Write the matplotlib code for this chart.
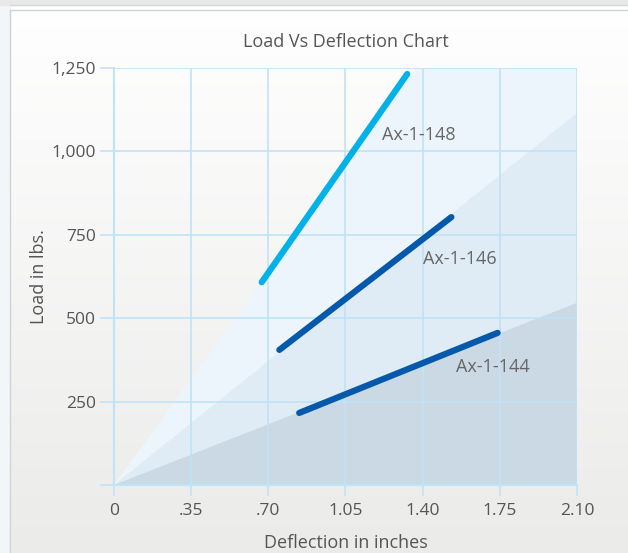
import numpy as np
import matplotlib.pyplot as plt
from matplotlib.patches import Rectangle

plt.rcParams["font.family"] = ["Open Sans", "DejaVu Sans"]

# Data
series_names = ['Ax-1-148', 'Ax-1-146', 'Ax-1-144']
defl_start = [0.67, 0.75, 0.84]
defl_end = [1.33, 1.53, 1.74]
load_start = [608, 405, 216]
load_end = [1232, 803, 456]
label_x = [1.38, 1.57, 1.72]
label_y = [1049, 677, 354]
line_colors = ['#00b2e8', '#0559ab', '#0559ab']

# shaded wedges from origin: (x, y) of outer edge
wedge_light = [(0, 0), (1.371, 1250), (2.1, 1250), (2.1, 0)]
wedge_mid = [(0, 0), (2.1, 1115), (2.1, 0)]
wedge_dark = [(0, 0), (2.1, 546), (2.1, 0)]
wedge_colors = ['#edf5fc', '#dfebf5', '#cad9e4']

x_ticks = [0, 0.35, 0.70, 1.05, 1.40, 1.75, 2.10]
x_tick_labels = ['0', '.35', '.70', '1.05', '1.40', '1.75', '2.10']
y_ticks = [0, 250, 500, 750, 1000, 1250]
y_tick_labels = ['', '250', '500', '750', '1,000', '1,250']

W, H = 628, 553
fig = plt.figure(figsize=(W / 100, H / 100), dpi=100)

# background panel with soft vertical gradient
bg = fig.add_axes([0, 0, 1, 1])
grad = np.linspace(0, 1, 256).reshape(-1, 1)
bg.imshow(grad, cmap=plt.matplotlib.colors.LinearSegmentedColormap.from_list(
    'g', ['#ffffff', '#ebebea']), aspect='auto', extent=[0, W, H, 0])
bg.add_patch(Rectangle((0, 0), 10, H, color='#f3f6f8'))
bg.add_patch(Rectangle((0, 0), W, 5, color='#e8e8e8'))
bg.plot([10, 10], [10, H], color='#d0d4d8', lw=1)
bg.plot([10, W], [10, 10], color='#d0d4d8', lw=1)
bg.plot([10, W], [5, 5], color='#d8d8d8', lw=1)
bg.set_xlim(0, W)
bg.set_ylim(H, 0)
bg.axis('off')

ax = fig.add_axes([114 / W, 68 / H, 463 / W, (485 - 68) / H])
ax.patch.set_alpha(0)

grid_c = '#bfe3f7'
for poly, c in zip([wedge_light, wedge_mid, wedge_dark], wedge_colors):
    xs, ys = zip(*poly)
    ax.fill(xs, ys, color=c, lw=0, zorder=1)

ax.set_xlim(0, 2.1)
ax.set_ylim(0, 1250)
ax.set_xticks(x_ticks)
ax.set_xticklabels(x_tick_labels)
ax.set_yticks(y_ticks)
ax.set_yticklabels(y_tick_labels)
ax.grid(True, color=grid_c, lw=1.2, zorder=2)
ax.set_axisbelow(False)
for s in ['top', 'right']:
    ax.spines[s].set_visible(False)
for s in ['left', 'bottom']:
    ax.spines[s].set_color(grid_c)
    ax.spines[s].set_linewidth(1.5)
ax.tick_params(axis='y', length=10, width=1.2, color=grid_c, labelsize=12.5,
               labelcolor='#555555', pad=3)
ax.tick_params(axis='x', length=8, width=1.2, color=grid_c, labelsize=12.5,
               labelcolor='#555555', pad=5)

for i, name in enumerate(series_names):
    ax.plot([defl_start[i], defl_end[i]], [load_start[i], load_end[i]],
            color=line_colors[i], lw=4.5, solid_capstyle='round', zorder=4)
    ax.text(label_x[i], label_y[i], name, ha='center', va='center',
            fontsize=13, color='#666666', zorder=5)

ax.set_title('Load Vs Deflection Chart', fontsize=13, color='#555555', pad=15)
ax.set_xlabel('Deflection in inches', fontsize=13, color='#555555', labelpad=11)
ax.set_ylabel('Load in lbs.', fontsize=13, color='#555555')
ax.yaxis.set_label_coords(-0.143, 0.5)

fig.savefig('out.png', dpi=100)
